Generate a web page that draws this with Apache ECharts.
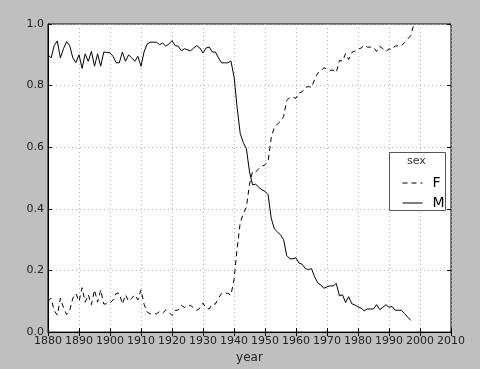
<!DOCTYPE html>
<html>
<head>
<meta charset="utf-8">
<script src="https://cdn.jsdelivr.net/npm/echarts@6/dist/echarts.min.js"></script>
<style>
html,body{margin:0;padding:0;background:#bfbfbf;}
#chart{width:480px;height:369px;}
</style>
</head>
<body>
<div id="chart"></div>
<script>
const years = [];
for (let y = 1880; y <= 1998; y++) years.push(y);

const maleShare = [
0.90,0.89,0.93,0.945,0.89,0.92,0.943,0.93,0.89,0.875,
0.90,0.856,0.903,0.879,0.911,0.863,0.903,0.863,0.909,0.908,
0.906,0.895,0.874,0.874,0.909,0.879,0.90,0.89,0.879,0.895,
0.863,0.91,0.935,0.941,0.941,0.941,0.933,0.938,0.928,0.935,
0.946,0.930,0.928,0.913,0.920,0.916,0.913,0.922,0.930,0.922,
0.906,0.922,0.925,0.909,0.909,0.890,0.874,0.874,0.874,0.880,
0.830,0.730,0.645,0.615,0.595,0.520,0.478,0.480,0.470,0.462,
0.457,0.446,0.370,0.335,0.325,0.316,0.300,0.249,0.238,0.238,
0.241,0.224,0.220,0.206,0.203,0.206,0.180,0.160,0.153,0.142,
0.147,0.150,0.150,0.158,0.118,0.121,0.096,0.115,0.092,0.088,
0.082,0.078,0.069,0.075,0.075,0.075,0.089,0.073,0.080,0.089,
0.081,0.083,0.071,0.071,0.071,0.060,0.049,0.038
];
const femaleShare = [
0.10,0.11,0.07,0.055,0.11,0.08,0.057,0.07,0.11,0.125,
0.10,0.144,0.097,0.121,0.089,0.137,0.097,0.137,0.091,0.092,
0.094,0.105,0.126,0.126,0.091,0.121,0.10,0.11,0.121,0.105,
0.137,0.09,0.065,0.059,0.059,0.059,0.067,0.062,0.072,0.065,
0.054,0.070,0.072,0.087,0.080,0.084,0.087,0.078,0.070,0.078,
0.094,0.078,0.075,0.091,0.091,0.110,0.126,0.126,0.126,0.120,
0.170,0.270,0.355,0.385,0.405,0.480,0.522,0.520,0.530,0.538,
0.543,0.554,0.630,0.665,0.675,0.684,0.700,0.751,0.762,0.762,
0.759,0.776,0.780,0.794,0.797,0.794,0.820,0.840,0.847,0.858,
0.853,0.850,0.850,0.842,0.882,0.879,0.904,0.885,0.908,0.912,
0.918,0.922,0.931,0.925,0.925,0.925,0.911,0.927,0.920,0.911,
0.919,0.917,0.929,0.929,0.929,0.940,0.951,0.962,0.998
];
const xTicks = [1880,1890,1900,1910,1920,1930,1940,1950,1960,1970,1980,1990,2000,2010];
const yTicks = [0.0,0.2,0.4,0.6,0.8,1.0];

const fData = years.map((y,i)=>[y, femaleShare[i] === undefined ? null : femaleShare[i]]);
const mData = years.map((y,i)=>[y, maleShare[i] === undefined ? null : maleShare[i]]);

const labelStyle = {color:'#222', fontSize:11, fontFamily:'DejaVu Sans'};
const chart = echarts.init(document.getElementById('chart'), null, {renderer:'canvas'});
chart.setOption({
  backgroundColor:'#bfbfbf',
  animation:false,
  grid:{left:48, top:24, right:29, bottom:33, show:true, backgroundColor:'#ffffff', borderColor:'#000', borderWidth:1},
  xAxis:[{
    type:'value', min:xTicks[0], max:xTicks[xTicks.length-1], interval:10,
    name:'year', nameLocation:'middle', nameGap:19,
    nameTextStyle:{color:'#222', fontSize:12, fontFamily:'DejaVu Sans'},
    axisLine:{lineStyle:{color:'#000'}},
    axisTick:{inside:true, length:4, lineStyle:{color:'#000'}},
    axisLabel:Object.assign({margin:4, formatter:v=>String(v)}, labelStyle),
    splitLine:{show:true, lineStyle:{color:'#b4b4b4', type:[1,3]}}
  },{
    type:'value', position:'top', min:xTicks[0], max:xTicks[xTicks.length-1], interval:10,
    axisLine:{show:false}, axisTick:{inside:true, length:4, lineStyle:{color:'#000'}},
    axisLabel:{show:false}, splitLine:{show:false}
  }],
  yAxis:[{
    type:'value', min:yTicks[0], max:yTicks[yTicks.length-1], interval:0.2,
    axisLine:{show:true, lineStyle:{color:'#000'}},
    axisTick:{inside:true, length:4, lineStyle:{color:'#000'}},
    axisLabel:Object.assign({margin:4, formatter:v=>v.toFixed(1)}, labelStyle),
    splitLine:{show:true, lineStyle:{color:'#b4b4b4', type:[1,3]}}
  },{
    type:'value', position:'right', min:0, max:1, interval:0.2,
    axisLine:{show:false}, axisTick:{inside:true, length:4, lineStyle:{color:'#000'}},
    axisLabel:{show:false}, splitLine:{show:false}
  }],
  legend:{
    orient:'vertical', left:397, top:171, itemWidth:20, itemHeight:12, itemGap:6,
    data:['F','M'],
    itemStyle:{opacity:0},
    lineStyle:{width:1},
    textStyle:{fontSize:14, color:'#000', fontFamily:'DejaVu Sans', padding:[0,0,0,5]},
    z:10
  },
  graphic:[
    {type:'rect', left:389, top:152, shape:{width:56, height:58}, style:{fill:'#fff', stroke:'#555', lineWidth:1}, z:5},
    {type:'text', left:407, top:156, style:{text:'sex', fontSize:11, fill:'#333', fontFamily:'DejaVu Sans'}, z:6}
  ],
  series:[
    {name:'F', type:'line', data:fData, showSymbol:false, symbol:'none', connectNulls:false,
     lineStyle:{color:'#000', width:1, type:[5,4]}, itemStyle:{color:'#000'}},
    {name:'M', type:'line', data:mData, showSymbol:false, symbol:'none', connectNulls:false,
     lineStyle:{color:'#000', width:1}, itemStyle:{color:'#000'}}
  ]
});
</script>
</body>
</html>
